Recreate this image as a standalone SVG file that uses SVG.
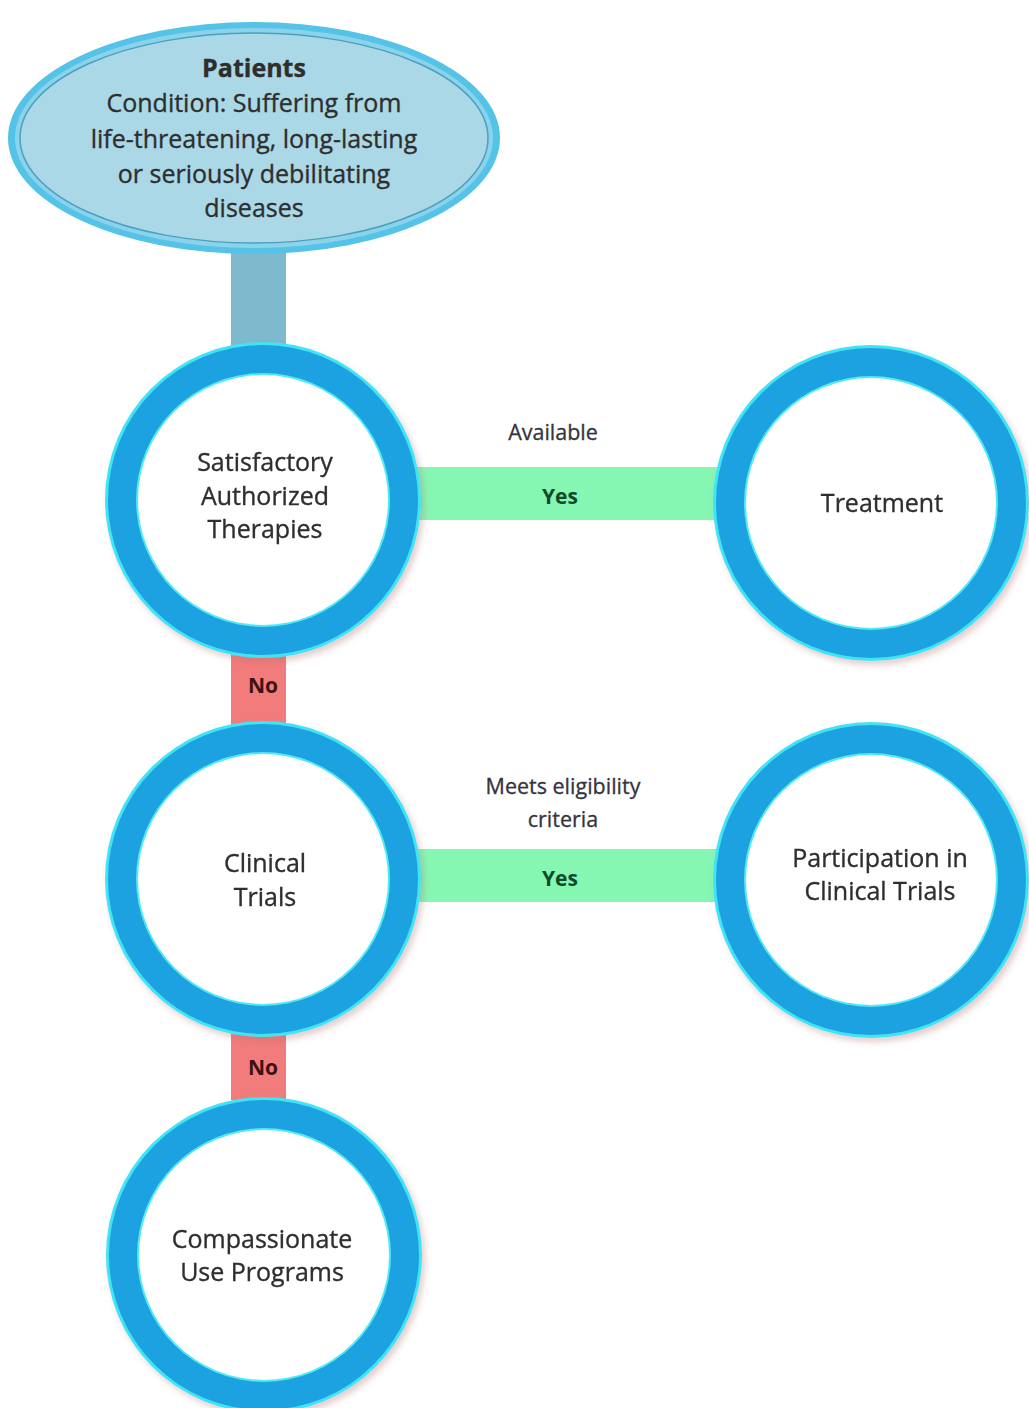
<svg xmlns="http://www.w3.org/2000/svg" width="1029" height="1408" viewBox="0 0 1029 1408">
<defs>
<style>
.t{font-family:"Open Sans","Noto Sans","Liberation Sans",sans-serif;font-size:25px;fill:#2e2e2e;stroke:#2e2e2e;stroke-width:0.35;text-anchor:middle}
.lab{font-family:"Open Sans","Noto Sans","Liberation Sans",sans-serif;font-size:21.5px;fill:#34343e;stroke:#34343e;stroke-width:0.3;text-anchor:middle}
.yes{font-family:"Open Sans","Noto Sans","Liberation Sans",sans-serif;font-size:21px;font-weight:bold;fill:#0f4a2a;text-anchor:middle}
.no{font-family:"Open Sans","Noto Sans","Liberation Sans",sans-serif;font-size:21px;font-weight:bold;fill:#3e1212;text-anchor:middle}
.ro{fill:#40e4f4}
.rb{fill:#1aa2e0}
.ri{fill:#52e8f6}
.rw{fill:#ffffff}
.green{fill:#86f6b3}
.red{fill:#f27b7b}
.blue{fill:#7fb9ce}
</style>
<filter id="sh" x="-10%" y="-10%" width="125%" height="125%">
<feDropShadow dx="3" dy="4" stdDeviation="3" flood-color="#b07070" flood-opacity="0.35"/>
</filter>
</defs>
<rect width="1029" height="1408" fill="#ffffff"/>
<g id="connectors">
<rect class="blue" x="231" y="248" width="55" height="100"/>
<rect class="green" x="416" y="467" width="308" height="53"/>
<text class="lab" x="553" y="440">Available</text>
<text class="yes" x="560" y="504">Yes</text>
<rect class="red" x="231" y="650" width="55" height="76"/>
<text class="no" x="263" y="693">No</text>
<rect class="green" x="416" y="849" width="308" height="53"/>
<text class="lab" x="563" y="794">Meets eligibility</text>
<text class="lab" x="563" y="827">criteria</text>
<text class="yes" x="560" y="886">Yes</text>
<rect class="red" x="231" y="1030" width="55" height="70"/>
<text class="no" x="263" y="1075">No</text>
</g>
<g id="node-patients">
<ellipse cx="254" cy="138" rx="246" ry="116" fill="#55c2e7"/>
<ellipse cx="254" cy="138" rx="239" ry="110" fill="#8ad3ea"/>
<ellipse cx="254" cy="138" rx="234" ry="105" fill="#aad8e6" stroke="#4c9fbf" stroke-width="1.5"/>
<text class="t" x="254" y="77" font-weight="bold">Patients</text>
<text class="t" x="254" y="112">Condition: Suffering from</text>
<text class="t" x="254" y="148">life-threatening, long-lasting</text>
<text class="t" x="254" y="183">or seriously debilitating</text>
<text class="t" x="254" y="217">diseases</text>
</g>
<g id="node-satisfactory" filter="url(#sh)">
<circle class="ro" cx="263" cy="500" r="158"/>
<circle class="rb" cx="263" cy="500" r="155"/>
<circle class="ri" cx="263" cy="500" r="127"/>
<circle class="rw" cx="263" cy="500" r="125"/>
<text class="t" x="265" y="471">Satisfactory</text>
<text class="t" x="265" y="505">Authorized</text>
<text class="t" x="265" y="538">Therapies</text>
</g>
<g id="node-treatment" filter="url(#sh)">
<circle class="ro" cx="871" cy="503" r="158"/>
<circle class="rb" cx="871" cy="503" r="155"/>
<circle class="ri" cx="871" cy="503" r="127"/>
<circle class="rw" cx="871" cy="503" r="125"/>
<text class="t" x="882" y="512">Treatment</text>
</g>
<g id="node-clinical" filter="url(#sh)">
<circle class="ro" cx="263" cy="879" r="158"/>
<circle class="rb" cx="263" cy="879" r="155"/>
<circle class="ri" cx="263" cy="879" r="127"/>
<circle class="rw" cx="263" cy="879" r="125"/>
<text class="t" x="265" y="872">Clinical</text>
<text class="t" x="265" y="906">Trials</text>
</g>
<g id="node-participation" filter="url(#sh)">
<circle class="ro" cx="871" cy="880" r="158"/>
<circle class="rb" cx="871" cy="880" r="155"/>
<circle class="ri" cx="871" cy="880" r="127"/>
<circle class="rw" cx="871" cy="880" r="125"/>
<text class="t" x="880" y="867">Participation in</text>
<text class="t" x="880" y="900">Clinical Trials</text>
</g>
<g id="node-compassionate" filter="url(#sh)">
<circle class="ro" cx="264" cy="1255" r="158"/>
<circle class="rb" cx="264" cy="1255" r="155"/>
<circle class="ri" cx="264" cy="1255" r="127"/>
<circle class="rw" cx="264" cy="1255" r="125"/>
<text class="t" x="262" y="1248">Compassionate</text>
<text class="t" x="262" y="1281">Use Programs</text>
</g>
</svg>
